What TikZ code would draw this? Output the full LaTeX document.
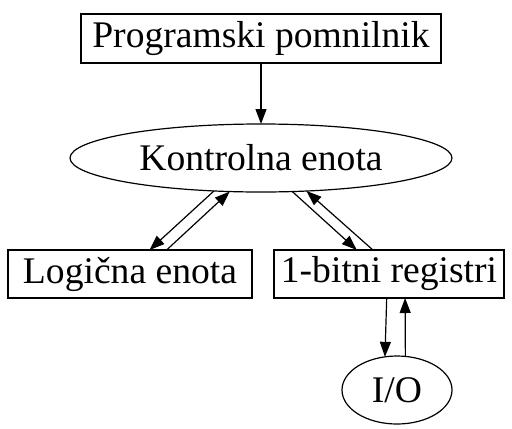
\documentclass[tikz,border=0pt]{standalone}
\usepackage{fontspec}
\setmainfont{Liberation Serif}
\usetikzlibrary{shapes.geometric,arrows.meta,calc}
\begin{document}
\begin{tikzpicture}[x=0.5pt,y=-0.5pt,
  every node/.style={inner sep=0pt,outer sep=0pt,font=\fontsize{18.8pt}{22pt}\selectfont},
  box/.style={draw,line width=0.6pt,rectangle},
  oval/.style={draw,line width=0.6pt,ellipse},
  edge/.style={line width=0.6pt,-{Triangle[length=7.5pt,width=5.5pt]}}]
\useasboundingbox (0,0) rectangle (512,428);

\node[box,minimum width=180pt,minimum height=24.5pt] (pp) at (261,38.5) {Programski pomnilnik};
\node[oval,minimum width=191pt,minimum height=34pt] (ke) at (261,158) {Kontrolna enota};
\node[box,minimum width=122pt,minimum height=24pt] (le) at (130,274) {Logična enota};
\node[box,minimum width=115pt,minimum height=24pt] (br) at (389,274) {1-bitni registri};
\node[oval,minimum width=55pt,minimum height=34pt] (io) at (397,390) {I/O};

% program memory feeds the control unit
\draw[edge] (pp) -- (ke);
% control unit <-> logic unit
\draw[edge] (ke.215) -- ($(le.north west)!0.58!(le.north east)$);
\draw[edge] ($(le.north west)!0.65!(le.north east)$) -- (ke.227.5);
% control unit <-> registers
\draw[edge] (ke.313.4) -- ($(br.north west)!0.36!(br.north east)$);
\draw[edge] ($(br.north west)!0.43!(br.north east)$) -- (ke.324.8);
% registers <-> I/O
\draw[edge] ($(br.south west)!0.49!(br.south east)$) -- (io.110);
\draw[edge] (io.76) -- ($(br.south west)!0.57!(br.south east)$);
\end{tikzpicture}
\end{document}
